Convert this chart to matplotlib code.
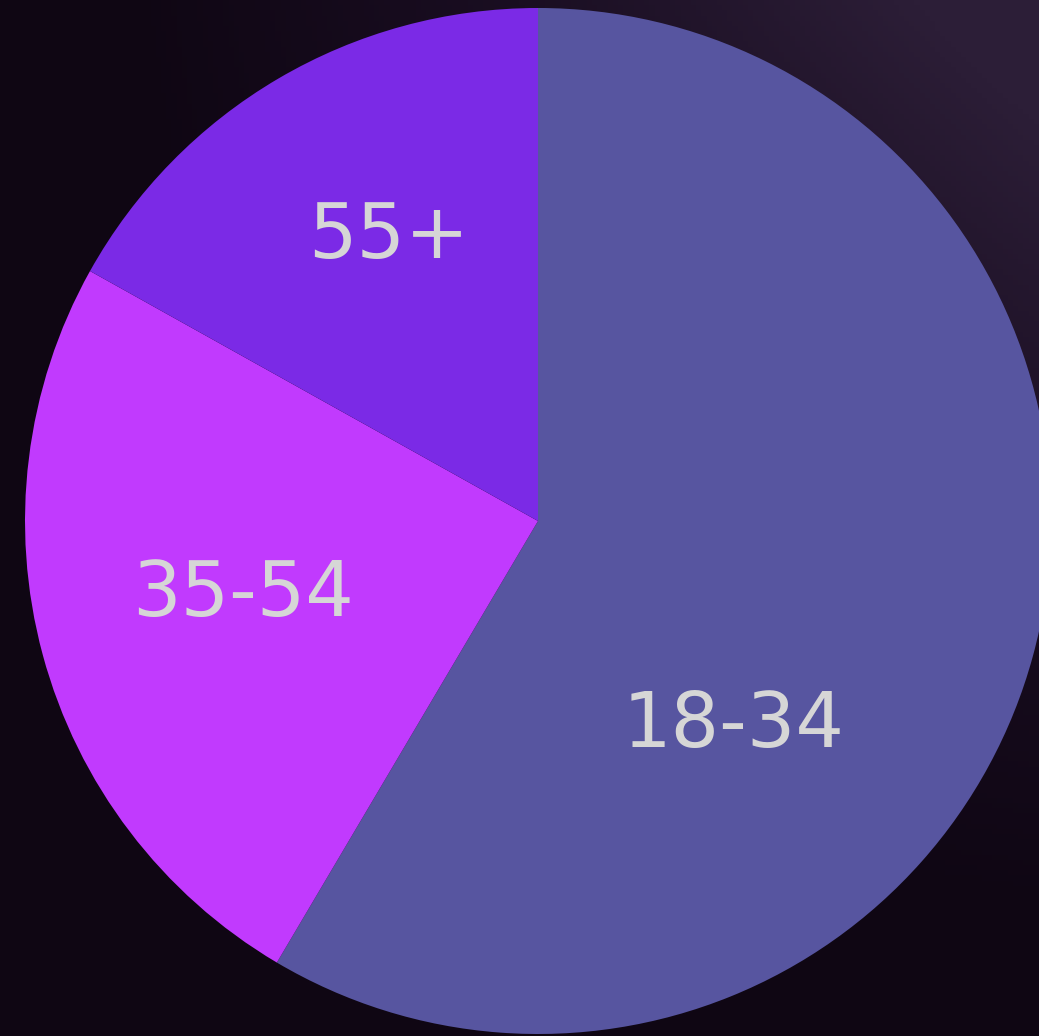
"""
Age split pie chart.
"""

import numpy as np
import matplotlib.pyplot as plt


labels = ["18-34", "35-54", "55+"]
shares = [58.5, 24.6, 16.9]
colors = ["#5755a0", "#c13afe", "#7b2ae6"]

# label spots (pie radius = 1), text baseline
label_x = [0.381, -0.574, -0.292]
label_y = [-0.4415, -0.185, 0.513]


fig = plt.figure(figsize=(10.39, 10.36), dpi=100)

# dark backdrop, a bit lighter toward the upper right
bg = fig.add_axes([0, 0, 1, 1])
gx, gy = np.meshgrid(np.linspace(0, 1, 200), np.linspace(0, 1, 200))
grad = np.clip(1.3 * gx * (1 - gy) - 0.15, 0, 1)
bg.imshow(
    grad,
    cmap=plt.matplotlib.colors.LinearSegmentedColormap.from_list(
        "bg", ["#0f0613", "#1a0e22", "#2c1e37"]
    ),
    extent=[0, 1, 0, 1],
    aspect="auto",
)
bg.axis("off")

ax = fig.add_axes([0, 0, 1, 1])
ax.set_facecolor("none")

ax.pie(
    shares,
    colors=colors,
    startangle=90,
    counterclock=False,
    radius=1,
    wedgeprops=dict(linewidth=0),
)

for lab, x, y in zip(labels, label_x, label_y):
    ax.text(
        x, y, lab,
        ha="center",
        va="baseline",
        fontsize=55,
        color="#d6d6d6",
        family="DejaVu Sans",
    )

r = 513.0
ax.set_xlim(-538 / r, (1039 - 538) / r)
ax.set_ylim(-(1036 - 521) / r, 521 / r)
ax.set_aspect("auto")
ax.axis("off")

fig.savefig("out.png", dpi=100)
